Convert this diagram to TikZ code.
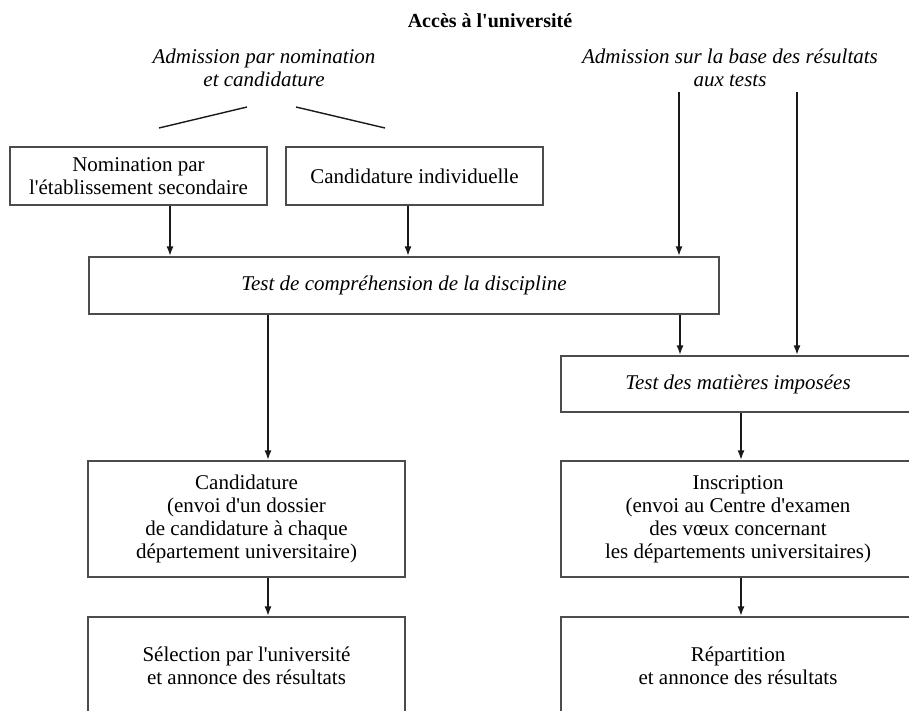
\documentclass[tikz,border=0pt]{standalone}
\usepackage{fontspec}
\setmainfont{Liberation Serif}
\usetikzlibrary{arrows.meta}
\newcommand\ap{\textquotesingle}
\begin{document}
\begin{tikzpicture}[x=1pt,y=-1pt,
  box/.style={draw=black!70, line width=1.2pt, inner sep=0pt, align=center, font=\fontsize{21}{23}\selectfont},
  arr/.style={draw=black!90, line width=2pt, -{Latex[length=10pt,width=7pt]}},
  ln/.style={draw=black!90, line width=1.4pt},
  lbl/.style={align=center, inner sep=0pt, font=\fontsize{21}{23}\selectfont\itshape}]
\useasboundingbox (0,0) rectangle (909,710);
\begin{scope}
\clip (0,0) rectangle (909,710);
\node[inner sep=0pt, font=\bfseries\fontsize{20}{23}\selectfont] (title) at (490,21) {Accès à l\ap université};
\node[lbl] (adm1) at (264,67.5) {Admission par nomination\\et candidature};
\node[lbl] (adm2) at (730,67.5) {Admission sur la base des résultats\\aux tests};

\node[box, minimum width=257pt, minimum height=58pt] (nom) at (138.5,176) {Nomination par\\l\ap établissement secondaire};
\node[box, minimum width=257pt, minimum height=58pt] (ind) at (414.5,176) {Candidature individuelle};
\node[box, minimum width=630pt, minimum height=57pt, font=\fontsize{21}{23}\selectfont\itshape] (test) at (404,285.5) {Test de compréhension de la discipline};
\node[box, minimum width=354pt, minimum height=56pt, font=\fontsize{21}{23}\selectfont\itshape] (mat) at (738,384) {Test des matières imposées};
\node[box, minimum width=317pt, minimum height=116pt] (cand) at (246.5,519) {Candidature\\(envoi d\ap un dossier\\de candidature à chaque\\département universitaire)};
\node[box, minimum width=354pt, minimum height=116pt] (insc) at (738,519) {Inscription\\(envoi au Centre d\ap examen\\des vœux concernant\\les départements universitaires)};
\node[box, minimum width=317pt, minimum height=98pt] (sel) at (246.5,666) {Sélection par l\ap université\\et annonce des résultats};
\node[box, minimum width=354pt, minimum height=98pt] (rep) at (738,666) {Répartition\\et annonce des résultats};

\coordinate (l1a) at (159,128); \coordinate (l1b) at (247,107);
\coordinate (l2a) at (296,107); \coordinate (l2b) at (385,128);
\draw[ln] (l1a) -- (l1b);
\draw[ln] (l2a) -- (l2b);

\coordinate (a1) at (170,0);
\coordinate (a2) at (408,0);
\coordinate (s1) at (679,92);
\coordinate (s2) at (797,92);
\coordinate (a3) at (680,0);
\coordinate (a4) at (268,0);
\coordinate (a5) at (741,0);

\draw[arr] (nom.south -| a1) -- (test.north -| a1);
\draw[arr] (ind.south -| a2) -- (test.north -| a2);
\draw[arr] (s1) -- (test.north -| s1);
\draw[arr] (s2) -- (mat.north -| s2);
\draw[arr] (test.south -| a3) -- (mat.north -| a3);
\draw[arr] (test.south -| a4) -- (cand.north -| a4);
\draw[arr] (cand.south -| a4) -- (sel.north -| a4);
\draw[arr] (mat.south -| a5) -- (insc.north -| a5);
\draw[arr] (insc.south -| a5) -- (rep.north -| a5);
\end{scope}
\end{tikzpicture}
\end{document}
